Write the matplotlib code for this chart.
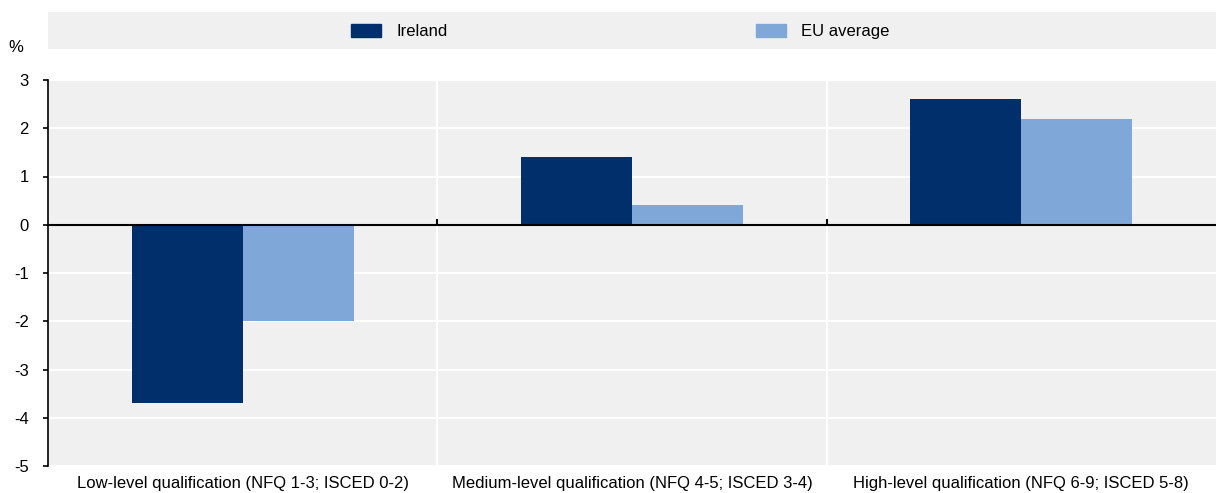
import numpy as np
import matplotlib.pyplot as plt
import matplotlib.transforms as mtransforms
from matplotlib.patches import Patch

# data
categories = ['Low-level qualification (NFQ 1-3; ISCED 0-2)',
              'Medium-level qualification (NFQ 4-5; ISCED 3-4)',
              'High-level qualification (NFQ 6-9; ISCED 5-8)']
ireland = [-3.7, 1.4, 2.6]
eu_avg = [-2.0, 0.4, 2.2]
series_names = ['Ireland', 'EU average']
y_ticks = [-5, -4, -3, -2, -1, 0, 1, 2, 3]

c_ie = '#002F6C'
c_eu = '#7FA8D9'
bg = '#F0F0F0'

plt.rcParams['font.family'] = ['Liberation Sans Narrow', 'Liberation Sans', 'DejaVu Sans']
fs = 12

fig = plt.figure(figsize=(12.16, 4.93), dpi=100)
ax = fig.add_axes([48/1216, 27/493, 1 - 48/1216, 386/493])
ax.set_facecolor(bg)

x = np.arange(len(categories))
w = 0.285
ax.bar(x - w/2, ireland, w, color=c_ie, zorder=3)
ax.bar(x + w/2, eu_avg, w, color=c_eu, zorder=3)

ax.set_xlim(-0.5, len(categories) - 0.5)
ax.set_ylim(-5, 3)
ax.set_yticks(y_ticks)
ax.set_yticklabels([str(v) for v in y_ticks], fontsize=fs)
ax.tick_params(axis='y', direction='out', length=3.8, width=1.2, pad=10)

# white grid lines
for v in y_ticks:
    if v != 0:
        ax.axhline(v, color='white', lw=1.5, zorder=1)
for s in np.arange(0.5, len(categories) - 0.5, 1):
    ax.axvline(s, color='white', lw=1.5, zorder=1)

# spines
for sp in ['top', 'right']:
    ax.spines[sp].set_visible(False)
ax.spines['left'].set_linewidth(1.2)
ax.spines['bottom'].set_position(('data', 0))
ax.spines['bottom'].set_linewidth(1.5)
ax.spines['bottom'].set_zorder(4)
ax.set_xticks(x)
ax.set_xticklabels([])
ax.tick_params(axis='x', which='major', length=0)
ax.set_xticks(np.arange(0.5, len(categories) - 0.5, 1), minor=True)
ax.tick_params(axis='x', which='minor', direction='in', length=4, width=1.5)

trans = mtransforms.blended_transform_factory(ax.transData, ax.transAxes)
for i, c in enumerate(categories):
    ax.text(i, -0.025, c, transform=trans, ha='center', va='top', fontsize=fs)

fig.text(16/1216, 1 - 47/493, '%', ha='center', va='center', fontsize=fs)

# legend band
lax = fig.add_axes([48/1216, 1 - 49/493, 1 - 48/1216, 37/493])
lax.set_facecolor(bg)
lax.set_xticks([])
lax.set_yticks([])
for sp in lax.spines.values():
    sp.set_visible(False)
handles = [Patch(color=c_ie), Patch(color=c_eu)]
leg = lax.legend(handles, series_names, loc='center', ncol=2, frameon=False,
                 fontsize=fs, handlelength=1.8, handleheight=0.85,
                 columnspacing=18.5, handletextpad=0.9,
                 bbox_to_anchor=(0.49, 0.47))

fig.savefig('out.png', dpi=100)
